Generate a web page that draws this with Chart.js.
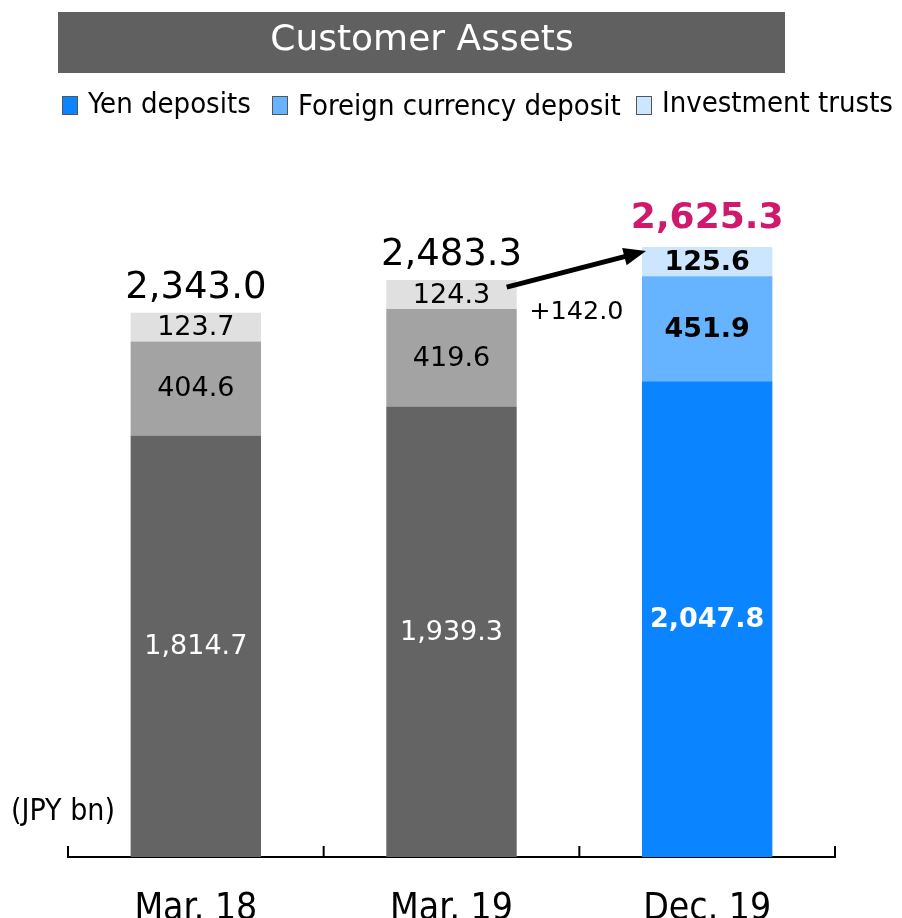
<!DOCTYPE html>
<html>
<head>
<meta charset="utf-8">
<script src="https://cdn.jsdelivr.net/npm/chart.js@4.4.1/dist/chart.umd.min.js"></script>
<style>
  body { margin: 0; background: #fff; }
  canvas { display: block; }
</style>
</head>
<body>
<canvas id="assetsChart" width="902" height="918"></canvas>
<script>
'use strict'
{
  // values in JPY bn
  const categories = ['Mar. 18', 'Mar. 19', 'Dec. 19'];
  const yenDeposits = [1814.7, 1939.3, 2047.8];
  const foreignDeposits = [404.6, 419.6, 451.9];
  const investmentTrusts = [123.7, 124.3, 125.6];
  const totals = [2343.0, 2483.3, 2625.3]; // as reported (rounded)
  const seriesNames = ['Yen deposits', 'Foreign currency deposit', 'Investment trusts'];
  const increaseLabel = '+142.0';

  const FONT = '"DejaVu Sans", Verdana, sans-serif';
  const COND = '"DejaVu Sans Condensed", "DejaVu Sans", sans-serif';

  const fmt = v => v.toLocaleString('en-US', { minimumFractionDigits: 1, maximumFractionDigits: 1 });

  const data = {
    labels: categories,
    datasets: [{
      label: seriesNames[0],
      data: yenDeposits,
      backgroundColor: ['#646464', '#646464', '#0a84ff'],
      legendColor: '#0a84ff',
      textColor: ['#fff', '#fff', '#fff'],
    }, {
      label: seriesNames[1],
      data: foreignDeposits,
      backgroundColor: ['#a3a3a3', '#a3a3a3', '#66b3ff'],
      legendColor: '#66b3ff',
      textColor: ['#000', '#000', '#000'],
    }, {
      label: seriesNames[2],
      data: investmentTrusts,
      backgroundColor: ['#e0e0e0', '#e0e0e0', '#cce6ff'],
      legendColor: '#cce6ff',
      textColor: ['#000', '#000', '#000'],
    }],
  };

  // banner title + legend + unit note
  const headerPlugin = {
    id: 'header',
    beforeDraw(chart) {
      const ctx = chart.ctx;
      ctx.save();
      ctx.fillStyle = '#606060';
      ctx.fillRect(58, 12, 727, 61);
      ctx.fillStyle = '#fff';
      ctx.font = '36px ' + FONT;
      ctx.textAlign = 'center';
      ctx.textBaseline = 'middle';
      ctx.fillText('Customer Assets', 422, 41);

      const legendX = [62, 272, 636];
      const legendY = [105, 107, 104];
      ctx.font = '29px ' + COND;
      ctx.textAlign = 'left';
      chart.data.datasets.forEach((ds, i) => {
        const x = legendX[i];
        ctx.fillStyle = ds.legendColor;
        ctx.fillRect(x, 96, 15, 18);
        ctx.strokeStyle = '#555';
        ctx.lineWidth = 1;
        ctx.strokeRect(x + 0.5, 96.5, 15, 18);
        ctx.fillStyle = '#000';
        ctx.fillText(ds.label, x + 26, legendY[i]);
      });

      ctx.font = '30px ' + COND;
      ctx.fillText('(JPY bn)', 11, 812);
      ctx.restore();
    },
  };

  const labelsPlugin = {
    id: 'segmentLabels',
    afterDatasetsDraw(chart) {
      const ctx = chart.ctx;
      const n = chart.data.labels.length;
      const last = n - 1;
      ctx.save();
      ctx.textAlign = 'center';
      ctx.textBaseline = 'middle';
      chart.data.datasets.forEach((ds, i) => {
        const meta = chart.getDatasetMeta(i);
        meta.data.forEach((el, j) => {
          ctx.fillStyle = ds.textColor[j];
          ctx.font = (j === last ? 'bold ' : '') + '27px ' + FONT;
          ctx.fillText(fmt(ds.data[j]), el.x, (el.y + el.base) / 2 + 1);
        });
      });

      // totals
      const top = chart.getDatasetMeta(chart.data.datasets.length - 1);
      const tops = [];
      for (let j = 0; j < n; j++) {
        const el = top.data[j];
        tops.push(el);
        ctx.textBaseline = 'alphabetic';
        if (j === last) {
          ctx.font = 'bold 36px ' + FONT;
          ctx.fillStyle = '#d0196b';
          ctx.fillText(fmt(totals[j]), el.x, el.y - 19);
        } else {
          ctx.font = '37px ' + FONT;
          ctx.fillStyle = '#000';
          ctx.fillText(fmt(totals[j]), el.x, el.y - 15);
        }
      }

      // growth arrow
      const a = tops[n - 2], b = tops[n - 1];
      const x1 = a.x + a.width / 2 - 10, y1 = a.y + 7;
      const x2 = b.x - b.width / 2 + 4, y2 = b.y + 4;
      const ang = Math.atan2(y2 - y1, x2 - x1);
      const head = 24;
      ctx.strokeStyle = '#000';
      ctx.fillStyle = '#000';
      ctx.lineWidth = 5;
      ctx.beginPath();
      ctx.moveTo(x1, y1);
      ctx.lineTo(x2 - Math.cos(ang) * head * 0.8, y2 - Math.sin(ang) * head * 0.8);
      ctx.stroke();
      ctx.beginPath();
      ctx.moveTo(x2, y2);
      ctx.lineTo(x2 - head * Math.cos(ang - 0.38), y2 - head * Math.sin(ang - 0.38));
      ctx.lineTo(x2 - head * Math.cos(ang + 0.38), y2 - head * Math.sin(ang + 0.38));
      ctx.closePath();
      ctx.fill();

      ctx.font = '25.5px ' + FONT;
      ctx.textBaseline = 'middle';
      ctx.fillText(increaseLabel, (a.x + b.x) / 2 - 3, 312);
      ctx.restore();
    },
    afterDraw(chart) {
      // category boundary ticks pointing up
      const xs = chart.scales.x;
      const n = chart.data.labels.length;
      const ctx = chart.ctx;
      ctx.save();
      ctx.strokeStyle = '#000';
      ctx.lineWidth = 2;
      for (let i = 0; i <= n; i++) {
        const x = xs.left + i * (xs.right - xs.left) / n;
        ctx.beginPath();
        ctx.moveTo(x, xs.top);
        ctx.lineTo(x, xs.top - 11);
        ctx.stroke();
      }
      ctx.restore();
    },
  };

  const options = {
    responsive: false,
    animation: false,
    layout: {
      padding: { left: 68, right: 67, top: 160, bottom: 0 },
    },
    plugins: {
      legend: { display: false },
      tooltip: { enabled: false },
      title: { display: false },
    },
    datasets: {
      bar: {
        barPercentage: 0.51,
        categoryPercentage: 1,
        borderWidth: 0,
      },
    },
    scales: {
      x: {
        stacked: true,
        grid: { display: false },
        border: { display: true, color: '#000', width: 2 },
        afterFit(scale) { scale.height = 61; },
        ticks: {
          color: '#000',
          padding: 26,
          font: { family: COND, size: 37, lineHeight: 1 },
        },
      },
      y: {
        stacked: true,
        display: false,
        min: 0,
        max: 3000,
      },
    },
  };

  const assetsChart = new Chart(document.getElementById('assetsChart'), {
    type: 'bar',
    data: data,
    options: options,
    plugins: [headerPlugin, labelsPlugin],
  });
}
</script>
</body>
</html>
